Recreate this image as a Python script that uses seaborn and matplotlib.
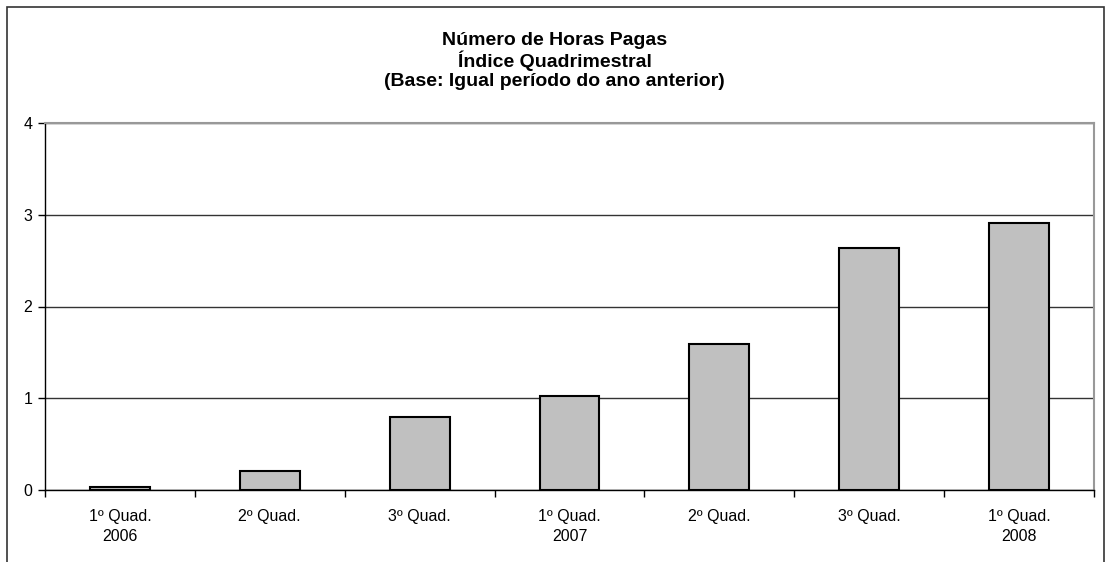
import numpy as np
import pandas as pd
import matplotlib
matplotlib.use("Agg")
import matplotlib.pyplot as plt
import seaborn as sns
from matplotlib.patches import Rectangle

# chart data
periods = ["1º Quad.\n2006", "2º Quad.", "3º Quad.", "1º Quad.\n2007",
           "2º Quad.", "3º Quad.", "1º Quad.\n2008"]
index_values = [0.03, 0.21, 0.80, 1.02, 1.59, 2.64, 2.91]
y_ticks = [0, 1, 2, 3, 4]

df = pd.DataFrame({"pos": range(len(periods)), "valor": index_values})

sns.set_style("white")
plt.rcParams["font.family"] = ["Liberation Sans", "DejaVu Sans"]
plt.rcParams["text.color"] = "black"
plt.rcParams["xtick.color"] = "black"
plt.rcParams["ytick.color"] = "black"

fig = plt.figure(figsize=(11.09, 5.62), dpi=100)
ax = fig.add_axes([45 / 1109, 1 - 490 / 562, (1094 - 45) / 1109, (490 - 123) / 562])

sns.barplot(data=df, x="pos", y="valor", color="#C0C0C0", saturation=1,
            width=0.4, edgecolor="black", linewidth=1.5, ax=ax, zorder=3)

ax.set_xlim(-0.5, len(periods) - 0.5)
ax.set_ylim(0, 4)
ax.set_yticks(y_ticks)
ax.set_yticklabels([str(t) for t in y_ticks], fontsize=11.5)
ax.set_xticks(range(len(periods)))
ax.set_xticklabels(periods, fontsize=11.5, linespacing=1.35)
ax.set_xticks(np.arange(-0.5, len(periods), 1), minor=True)
ax.tick_params(axis="x", which="major", bottom=True, length=0, pad=14)
ax.tick_params(axis="x", which="minor", bottom=True, length=5, width=1,
               color="black", direction="out")
ax.tick_params(axis="y", left=True, length=5, width=1, color="black",
               direction="out", pad=4)
ax.set_xlabel("")
ax.set_ylabel("")

ax.yaxis.grid(True, color="#333333", linewidth=1)
ax.set_axisbelow(True)

for side in ["top", "right"]:
    ax.spines[side].set_visible(True)
    ax.spines[side].set_color("#999999")
    ax.spines[side].set_linewidth(1.5)
for side in ["left", "bottom"]:
    ax.spines[side].set_visible(True)
    ax.spines[side].set_color("black")
    ax.spines[side].set_linewidth(1)

fig.text(0.5, 1 - 61 / 562,
         "Número de Horas Pagas\nÍndice Quadrimestral\n(Base: Igual período do ano anterior)",
         ha="center", va="center", fontsize=14, fontweight="bold", linespacing=1.12,
         color="black")

fig.patches.append(Rectangle((7 / 1109, -0.1), (1104 - 7) / 1109, 1.1 - 7 / 562,
                             transform=fig.transFigure, fill=False,
                             edgecolor="#333333", linewidth=1.2))

fig.savefig("out.png", dpi=100)
